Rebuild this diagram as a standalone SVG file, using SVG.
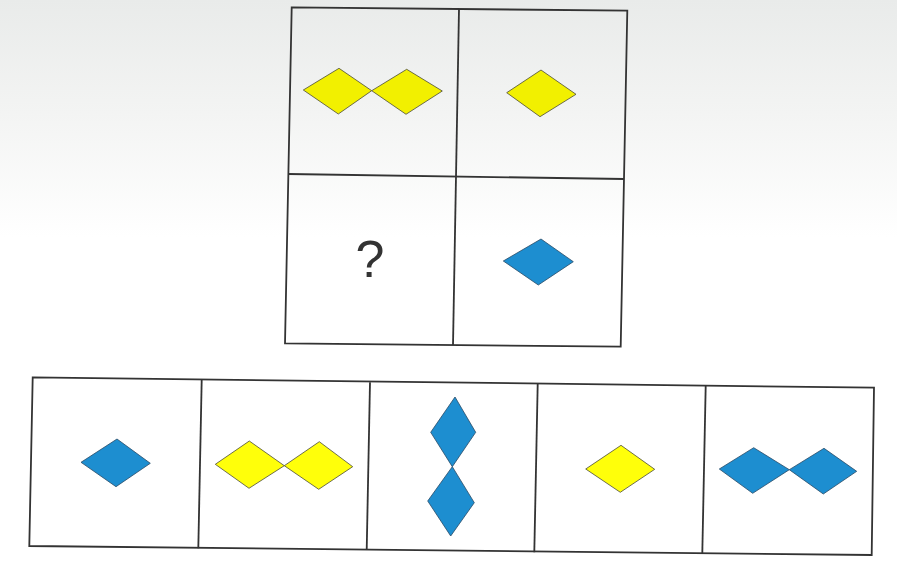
<svg xmlns="http://www.w3.org/2000/svg" width="897" height="564" viewBox="0 0 897 564">
<defs>
<linearGradient id="bg" x1="0" y1="0" x2="0" y2="1">
<stop offset="0" stop-color="#e9ebea"/>
<stop offset="0.2" stop-color="#f3f4f3"/>
<stop offset="0.42" stop-color="#ffffff"/>
</linearGradient>
<style>
.frame{fill:none;stroke:#333;stroke-width:1.8;stroke-linejoin:miter}
.y{fill:#f2f000;stroke:#4a4a3a;stroke-width:0.8}
.yb{fill:#ffff0a;stroke:#4a4a3a;stroke-width:0.8}
.b{fill:#1d8ed0;stroke:#2a4a66;stroke-width:0.8}
.q{font-family:"Liberation Sans",Arial,sans-serif;font-size:52px;fill:#333}
</style>
</defs>
<rect width="897" height="564" fill="url(#bg)"/>
<rect x="0" y="360" width="897" height="204" fill="#fff"/>
<g id="puzzle-grid">
<g id="cell-top-left">
<polygon class="y" points="303.3,90 339,68.3 371.7,90.7 338.3,114"/>
<polygon class="y" points="371.7,90.7 406.7,69.3 442.3,91 406,114.3"/>
</g>
<g id="cell-top-right">
<polygon class="y" points="506.7,92.7 541,70 576,94.3 540,116.7"/>
</g>
<g id="cell-bottom-left">
<text class="q" x="370" y="277" text-anchor="middle">?</text>
</g>
<g id="cell-bottom-right">
<polygon class="b" points="503.3,261 541,239 573.3,261.7 538.3,285"/>
</g>
<g id="grid-lines">
<polygon class="frame" points="291.7,7.3 627.3,10.7 620.7,346.7 285,343.3"/>
<line class="frame" x1="459" y1="9" x2="453" y2="345"/>
<line class="frame" x1="288.3" y1="174" x2="624" y2="179"/>
</g>
</g>
<g id="options">
<g id="option-1">
<polygon class="b" points="81,462.3 117,439 150.3,463.3 116,486.7"/>
</g>
<g id="option-2">
<polygon class="yb" points="215.3,464.3 249.3,441 284.3,465.7 249,488.3"/>
<polygon class="yb" points="284.3,465.7 319.3,441.7 352.7,466.7 318.7,489.3"/>
</g>
<g id="option-3">
<polygon class="b" points="455,397 475.7,432.3 452.3,466.7 430.7,432.3"/>
<polygon class="b" points="452.3,466.7 474.3,502.7 450.7,536 427.7,501"/>
</g>
<g id="option-4">
<polygon class="yb" points="585.7,469 621,445.3 654.7,469.3 620.3,492.3"/>
</g>
<g id="option-5">
<polygon class="b" points="719.3,469 753.7,447.7 789.3,469.7 752.7,493.3"/>
<polygon class="b" points="789.3,469.7 824,448.3 856.7,471.3 823.3,494"/>
</g>
<g id="option-lines">
<polygon class="frame" points="32.7,377.3 874,387.7 871.7,555 29.3,546"/>
<line class="frame" x1="201.7" y1="380" x2="198.3" y2="548.3"/>
<line class="frame" x1="370" y1="382.3" x2="366.7" y2="550"/>
<line class="frame" x1="537.7" y1="384" x2="534.3" y2="552.3"/>
<line class="frame" x1="705.7" y1="385.7" x2="702.3" y2="553.3"/>
</g>
</g>
</svg>
